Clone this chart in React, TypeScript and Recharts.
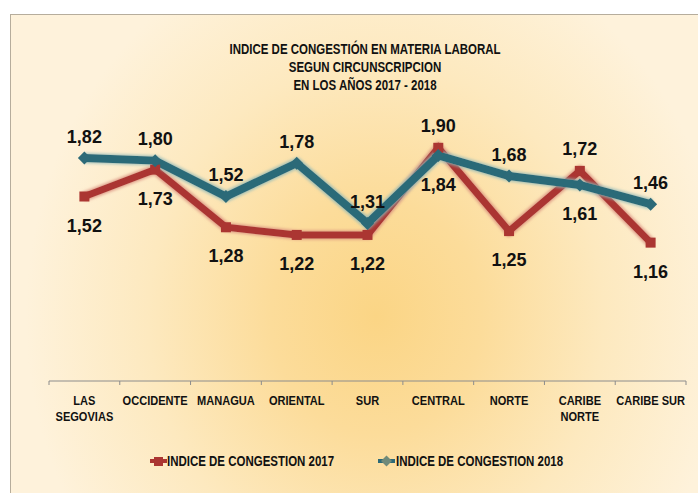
import React from 'react';
import { LineChart, Line, XAxis, YAxis, LabelList } from 'recharts';

const categories = ['LAS SEGOVIAS', 'OCCIDENTE', 'MANAGUA', 'ORIENTAL', 'SUR', 'CENTRAL', 'NORTE', 'CARIBE NORTE', 'CARIBE SUR'];
const tickLabelLines = [['LAS', 'SEGOVIAS'], ['OCCIDENTE'], ['MANAGUA'], ['ORIENTAL'], ['SUR'], ['CENTRAL'], ['NORTE'], ['CARIBE', 'NORTE'], ['CARIBE SUR']];
const values2017 = [1.52, 1.73, 1.28, 1.22, 1.22, 1.90, 1.25, 1.72, 1.16];
const values2018 = [1.82, 1.80, 1.52, 1.78, 1.31, 1.84, 1.68, 1.61, 1.46];
const seriesNames = ['INDICE DE CONGESTION 2017', 'INDICE DE CONGESTION 2018'];
const titleLines = ['INDICE DE CONGESTIÓN EN MATERIA LABORAL', 'SEGUN CIRCUNSCRIPCION', 'EN LOS AÑOS 2017 - 2018'];

const data = categories.map((c, i) => ({ name: c, v2017: values2017[i], v2018: values2018[i] }));

const W = 698;
const H = 493;
const M = { top: 135, right: 12, left: 49, bottom: 0 };
const XAXIS_H = 112;
const AXIS_Y = H - XAXIS_H;
const BAND = (W - M.left - M.right) / categories.length;

const RED = '#ab3632';
const BLUE = '#2c6a78';
const SANS = '"Liberation Sans", Arial, sans-serif';
const NARROW_SCALE = 0.82;

const fmt = (v: number) => v.toFixed(2).replace('.', ',');

const NarrowText = ({ x, y, size, anchor = 'middle', children }: any) => (
  <g transform={`translate(${x},${y}) scale(${NARROW_SCALE},1)`}>
    <text x={0} y={0} textAnchor={anchor} fontFamily={SANS} fontWeight="bold" fontSize={size} fill="#111">
      {children}
    </text>
  </g>
);

const CategoryTick = (props: any) => {
  const { x, index } = props;
  const lines = tickLabelLines[index] || [String(props.payload?.value ?? '')];
  const isLast = index === categories.length - 1;
  return (
    <g>
      <line x1={x - BAND / 2} x2={x - BAND / 2} y1={AXIS_Y} y2={AXIS_Y + 4} stroke="#8c8c8c" strokeWidth={1} />
      {isLast && <line x1={x + BAND / 2} x2={x + BAND / 2} y1={AXIS_Y} y2={AXIS_Y + 4} stroke="#8c8c8c" strokeWidth={1} />}
      {lines.map((l, i) => (
        <NarrowText key={i} x={x} y={AXIS_Y + 24 + i * 15.5} size={13.5}>
          {l}
        </NarrowText>
      ))}
    </g>
  );
};

const makeLabel = (own: number[], other: number[]) => (props: any) => {
  const { x, y, index, value } = props;
  const above = own[index] >= other[index];
  return (
    <text key={`l-${index}`} x={x} y={above ? y - 15.5 : y + 35} textAnchor="middle" fontFamily={SANS} fontWeight="bold" fontSize={18} fill="#111">
      {fmt(Number(value))}
    </text>
  );
};

const SquareDot = (props: any) => {
  const { cx, cy, index } = props;
  if (cx == null || cy == null) return <g key={`s-${index}`} />;
  return <rect key={`s-${index}`} x={cx - 5} y={cy - 5} width={10} height={10} fill={RED} />;
};

const DiamondDot = (props: any) => {
  const { cx, cy, index } = props;
  if (cx == null || cy == null) return <g key={`d-${index}`} />;
  return <path key={`d-${index}`} d={`M${cx},${cy - 6.5} L${cx + 6.5},${cy} L${cx},${cy + 6.5} L${cx - 6.5},${cy} Z`} fill={BLUE} />;
};

export default function App() {
  return (
    <div style={{ position: 'absolute', left: 0, top: 0, width: W, height: H, overflow: 'hidden', background: '#fff' }}>
      <svg width={0} height={0} style={{ position: 'absolute' }}>
        <defs>
          <filter id="glowRed" x="-5%" y="-30%" width="110%" height="160%">
            <feMorphology in="SourceAlpha" operator="dilate" radius="1.2" result="d" />
            <feGaussianBlur in="d" stdDeviation="1.4" result="b" />
            <feFlood floodColor="#d98c7c" floodOpacity="0.85" />
            <feComposite in2="b" operator="in" result="g" />
            <feMerge>
              <feMergeNode in="g" />
              <feMergeNode in="SourceGraphic" />
            </feMerge>
          </filter>
          <filter id="glowBlue" x="-5%" y="-30%" width="110%" height="160%">
            <feMorphology in="SourceAlpha" operator="dilate" radius="1.2" result="d" />
            <feGaussianBlur in="d" stdDeviation="1.4" result="b" />
            <feFlood floodColor="#8fb9b8" floodOpacity="0.85" />
            <feComposite in2="b" operator="in" result="g" />
            <feMerge>
              <feMergeNode in="g" />
              <feMergeNode in="SourceGraphic" />
            </feMerge>
          </filter>
        </defs>
      </svg>
      <div
        style={{
          position: 'absolute',
          left: 10,
          top: 14,
          width: 730,
          height: 520,
          border: '1.5px solid #b6ad9c',
          background: 'radial-gradient(ellipse 48% 75% at 50% 58%, #fbd585 0%, #fcdc9a 30%, #fde9bf 65%, #fef2db 100%)',
        }}
      />
      <div style={{ position: 'absolute', left: 0, top: 0 }}>
        <LineChart width={W} height={H} data={data} margin={M}>
          <XAxis
            dataKey="name"
            scale="band"
            height={XAXIS_H}
            axisLine={{ stroke: '#8c8c8c', strokeWidth: 1 }}
            tickLine={false}
            tick={<CategoryTick />}
            interval={0}
          />
          <YAxis hide domain={[0.08, 2]} />
          <Line
            type="linear"
            dataKey="v2017"
            name={seriesNames[0]}
            stroke={RED}
            strokeWidth={7}
            filter="url(#glowRed)"
            dot={<SquareDot />}
            activeDot={false}
            isAnimationActive={false}
          >
            <LabelList dataKey="v2017" content={makeLabel(values2017, values2018)} />
          </Line>
          <Line
            type="linear"
            dataKey="v2018"
            name={seriesNames[1]}
            stroke={BLUE}
            strokeWidth={8}
            filter="url(#glowBlue)"
            dot={<DiamondDot />}
            activeDot={false}
            isAnimationActive={false}
          >
            <LabelList dataKey="v2018" content={makeLabel(values2018, values2017)} />
          </Line>
        </LineChart>
      </div>
      <svg width={W} height={H} style={{ position: 'absolute', left: 0, top: 0, pointerEvents: 'none' }}>
        {titleLines.map((t, i) => (
          <NarrowText key={i} x={365} y={53.5 + i * 18} size={14}>
            {t}
          </NarrowText>
        ))}
        <g>
          <line x1={150} x2={167} y1={461} y2={461} stroke={RED} strokeWidth={4} />
          <rect x={154} y={457} width={9} height={9} fill={RED} />
          <NarrowText x={167} y={466} size={14} anchor="start">{seriesNames[0]}</NarrowText>
        </g>
        <g>
          <line x1={378} x2={395} y1={461} y2={461} stroke={BLUE} strokeWidth={4} />
          <path d="M386.5,455.5 L392,461 L386.5,466.5 L381,461 Z" fill="#6f8a7a" />
          <NarrowText x={396} y={466} size={14} anchor="start">{seriesNames[1]}</NarrowText>
        </g>
      </svg>
    </div>
  );
}
